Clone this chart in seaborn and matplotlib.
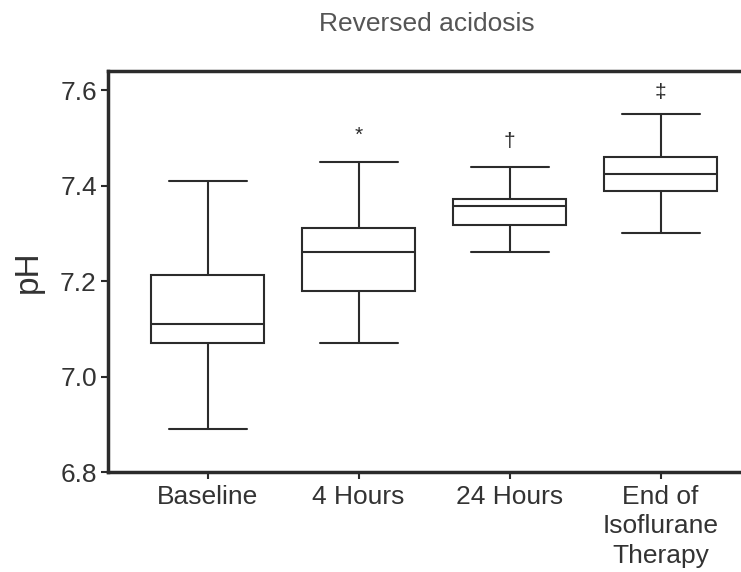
import numpy as np
import pandas as pd
import matplotlib
matplotlib.use("Agg")
import matplotlib.pyplot as plt
import seaborn as sns

categories = ["Baseline", "4 Hours", "24 Hours", "End of\nIsoflurane\nTherapy"]
whisker_low = [6.89, 7.07, 7.26, 7.30]
q1 = [7.07, 7.18, 7.317, 7.388]
median = [7.11, 7.26, 7.358, 7.424]
q3 = [7.213, 7.311, 7.372, 7.46]
whisker_high = [7.41, 7.45, 7.44, 7.55]
markers = ["", "*", "\u2020", "\u2021"]
marker_y = [None, 7.505, 7.493, 7.596]

rows = []
for c, a, b, m, d, e in zip(categories, whisker_low, q1, median, q3, whisker_high):
    for v in (a, b, m, d, e):
        rows.append({"group": c, "pH": v})
df = pd.DataFrame(rows)

sns.set_theme(style="white")
plt.rcParams["font.family"] = ["Liberation Sans", "DejaVu Sans"]

fig = plt.figure(figsize=(7.41, 5.72), dpi=100)
ax = fig.add_axes([0.1457, 0.1748, 0.86, 0.701])

lc = "#2b2b2b"
box_w = 0.75
sns.boxplot(data=df, x="group", y="pH", order=categories, whis=np.inf,
            width=box_w, color="white", linecolor=lc, linewidth=1.5,
            ax=ax)

# widen whisker caps
for cont in ax.containers:
    caps = getattr(cont, "caps", None)
    if caps is None:
        continue
    for cap in caps:
        xd = np.asarray(cap.get_xdata(), dtype=float)
        cx = xd.mean()
        half = 0.69 * box_w / 2
        cap.set_xdata([cx - half, cx + half])

ax.set_ylim(6.8, 7.64)
ax.set_xlim(-0.66, 3.56)
ax.set_yticks([6.8, 7.0, 7.2, 7.4, 7.6])
ax.set_yticklabels(["6.8", "7.0", "7.2", "7.4", "7.6"])
ax.set_xlabel("")
ax.set_ylabel("pH", fontsize=24, color="#333333", labelpad=12)
ax.set_title("Reversed acidosis", fontsize=19, color="#555555", pad=29)

for s in ["left", "bottom", "top"]:
    ax.spines[s].set_visible(True)
    ax.spines[s].set_linewidth(2.5)
    ax.spines[s].set_color(lc)
ax.spines["right"].set_visible(False)

ax.tick_params(axis="both", which="both", direction="out", length=5, width=1.5,
               color=lc, labelsize=19, labelcolor="#333333", bottom=True, left=True)
ax.tick_params(axis="x", pad=4)
ax.tick_params(axis="y", pad=3)
for lbl in ax.get_xticklabels():
    lbl.set_linespacing(1.3)

for i, (mk, my) in enumerate(zip(markers, marker_y)):
    if mk:
        ax.text(i, my, mk, ha="center", va="center", fontsize=15, color=lc)

fig.savefig("out.png", dpi=100)
